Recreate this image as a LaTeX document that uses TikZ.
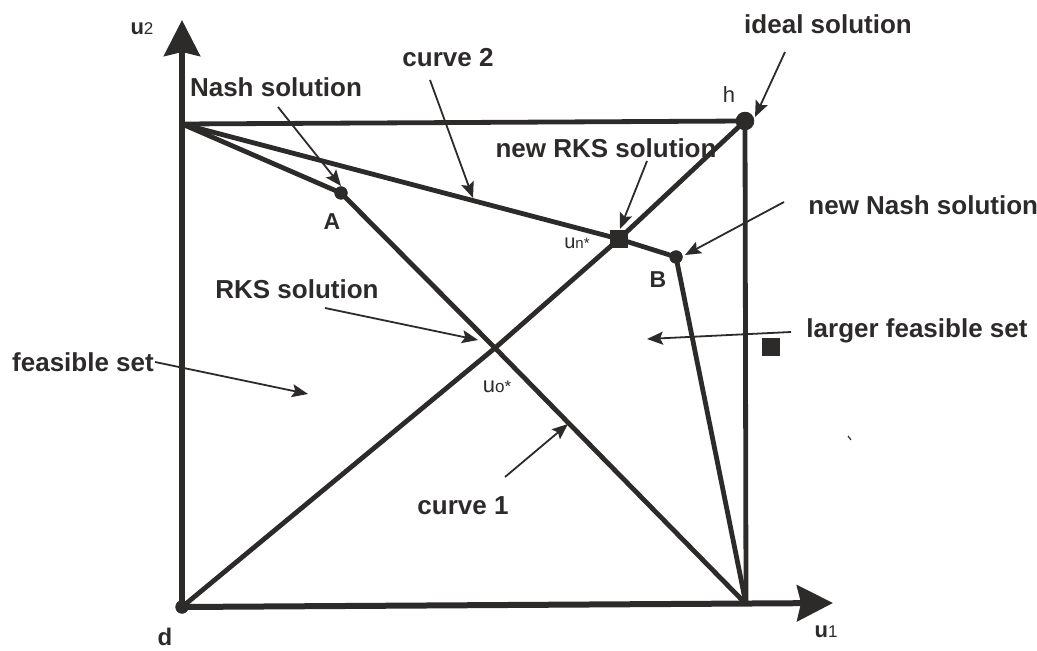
\documentclass[tikz,border=0pt]{standalone}
\usepackage{fontspec}
\setmainfont{Liberation Sans}
\usetikzlibrary{arrows.meta}
\definecolor{ink}{RGB}{45,42,42}
\begin{document}
\begin{tikzpicture}[x=0.5pt,y=-0.5pt,
  main/.style={draw=ink,line width=2.4pt,line join=round},
  axisline/.style={draw=ink,line width=3pt,-{Stealth[length=18pt,width=18pt,inset=2pt]}},
  pointer/.style={draw=ink,line width=0.9pt,-{Stealth[length=8pt,width=6.5pt,inset=1.5pt]}},
  lbl/.style={text=ink,font=\fontsize{13}{15}\selectfont\bfseries,inner sep=0pt},
  small/.style={text=ink,inner sep=0pt},
  dot/.style={circle,fill=ink,inner sep=0pt,minimum size=#1},
  sq/.style={rectangle,fill=ink,inner sep=0pt,minimum size=9pt},
  ]
\useasboundingbox (0,0) rectangle (1037,651);
% points
\node[dot=6.5pt] (d) at (182,607) {};
\node[dot=9pt] (h) at (745,121) {};
\node[dot=6.5pt] (A) at (341,193) {};
\node[dot=6.5pt] (B) at (676,257) {};
\coordinate (tl) at (182,124);
\coordinate (br) at (746,604);
\coordinate (O) at (495,348);
\coordinate (N) at (619,239);
\coordinate (u2tip) at (182,20);
\coordinate (u1tip) at (833,603);
% axes
\draw[axisline] (d.center) -- (u2tip);
\draw[axisline] (d.center) -- (u1tip);
% main lines
\draw[main] (tl) -- (h.center) -- (br);
\draw[main] (tl) -- (A.center) -- (O) -- (br);
\draw[main] (tl) -- (N) -- (B.center) -- (br);
\draw[main] (d.center) -- (O) -- (N) -- (h.center);
% redraw dots on top
\fill[ink] (d.center) circle[radius=3.3pt];
\fill[ink] (h.center) circle[radius=4.6pt];
\fill[ink] (A.center) circle[radius=3.3pt];
\fill[ink] (B.center) circle[radius=3.3pt];
\node[sq] (Nsq) at (N) {};
\node[sq] (sq2) at (771,347) {};
\draw[ink,line width=0.6pt] (848,436) -- (851,440);
% labels
\node[lbl] (lNash) at (276,87) {Nash solution};
\node[lbl] (lc2) at (448,58) {curve 2};
\node[lbl] (lideal) at (828,24) {ideal solution};
\node[lbl] (lnrks) at (606,148) {new RKS solution};
\node[lbl,anchor=west] (lnnash) at (808,205) {new Nash solution};
\node[lbl] (lrks) at (297,289) {RKS solution};
\node[lbl] (lfeas) at (83,362) {feasible set};
\node[lbl] (llarger) at (917,331) {larger feasible set};
\node[lbl] (lc1) at (463,506) {curve 1};
\node[lbl,font=\fontsize{11.5}{13}\selectfont\bfseries] (lA) at (332,222) {A};
\node[lbl,font=\fontsize{11.5}{13}\selectfont\bfseries] (lB) at (658,280) {B};
\node[lbl,font=\fontsize{12}{14}\selectfont\bfseries] (ld) at (165,637) {d};
\node[small,font=\fontsize{11}{13}\selectfont] (lh) at (729,95) {h};
\node[small] (lu2) at (142,29) {\fontsize{11}{13}\selectfont\bfseries u\fontsize{8.5}{10}\selectfont\mdseries 2};
\node[small] (lu1) at (826,632) {\fontsize{11}{13}\selectfont\bfseries u\fontsize{8.5}{10}\selectfont\mdseries 1};
\node[small] (lun) at (577,243) {\fontsize{10}{12}\selectfont u\fontsize{7.5}{9}\selectfont n*};
\node[small] (luo) at (497,387) {\fontsize{11}{13}\selectfont u\fontsize{8.5}{10}\selectfont o*};
% pointers
\coordinate (tNash) at (278,107); \coordinate (hNash) at (341,186);
\coordinate (tc2) at (430,80); \coordinate (hc2) at (473,198);
\coordinate (tideal) at (785,52); \coordinate (hideal) at (755,117);
\coordinate (tnrks) at (647,161); \coordinate (hnrks) at (620,229);
\coordinate (tnnash) at (784,202); \coordinate (hnnash) at (685,255);
\coordinate (trks) at (325,308); \coordinate (hrks) at (478,340);
\coordinate (tfeas) at (155,362); \coordinate (hfeas) at (308,394);
\coordinate (tlarger) at (791,332); \coordinate (hlarger) at (647,339);
\coordinate (tc1) at (505,477); \coordinate (hc1) at (568,424);
\draw[pointer] (tNash) -- (hNash);
\draw[pointer] (tc2) -- (hc2);
\draw[pointer] (tideal) -- (hideal);
\draw[pointer] (tnrks) -- (hnrks);
\draw[pointer] (tnnash) -- (hnnash);
\draw[pointer] (trks) -- (hrks);
\draw[pointer] (tfeas) -- (hfeas);
\draw[pointer] (tlarger) -- (hlarger);
\draw[pointer] (tc1) -- (hc1);
\end{tikzpicture}
\end{document}
